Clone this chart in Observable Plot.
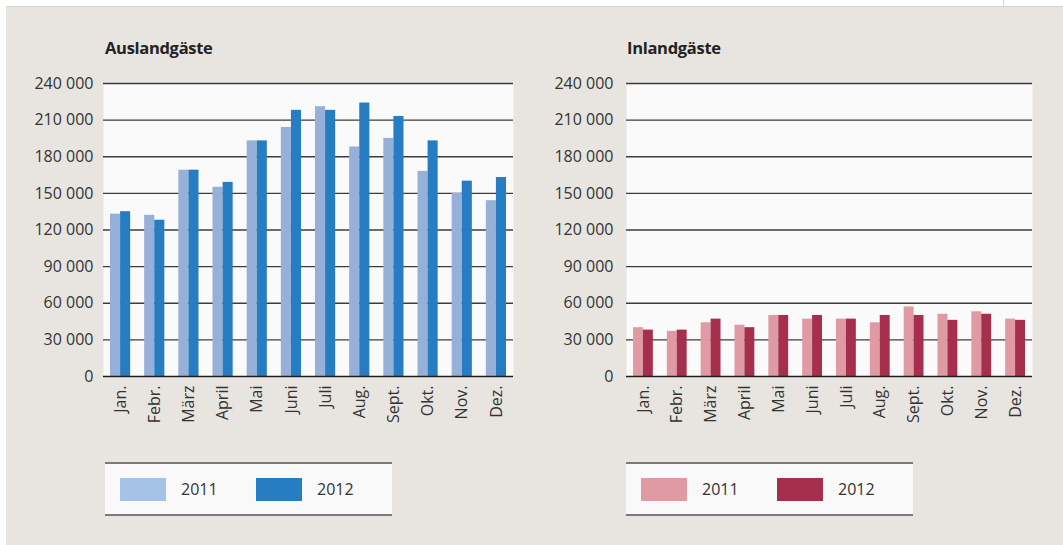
<!DOCTYPE html>
<html>
<head>
<meta charset="utf-8">
<script src="https://cdn.jsdelivr.net/npm/d3@7"></script>
<script src="https://cdn.jsdelivr.net/npm/@observablehq/plot@0.6"></script>
<style>
  html, body { margin: 0; padding: 0; background: #ffffff; width: 1063px; height: 545px; overflow: hidden; }
  body { position: relative; font-family: "Open Sans", sans-serif; color: #333; }
  #bg { position: absolute; left: 6px; top: 6px; width: 1057px; height: 539px; background: #e8e5e0; border-top: 1px solid #d2d2d2; box-sizing: border-box; }
  #vline { position: absolute; left: 1003px; top: 0; width: 1px; height: 6px; background: #d2d2d2; }
  .chart { position: absolute; top: 0; }
  .title { position: absolute; top: 36px; font-weight: 700; font-size: 16.5px; color: #222; letter-spacing: -0.3px; }
  .legend { position: absolute; top: 462px; height: 54px; width: 287px; background: #f9f9f9; border-top: 2px solid #7a7a7a; border-bottom: 2px solid #7a7a7a; box-sizing: border-box; }
  .sw { position: absolute; top: 14px; width: 46px; height: 23px; }
  .lt { position: absolute; top: 14px; font-size: 16px; line-height: 23px; color: #333; }
</style>
</head>
<body>
<div id="bg"></div>
<div id="vline"></div>
<div class="title" style="left:105px">Auslandgäste</div>
<div class="title" style="left:627px">Inlandgäste</div>
<div id="left" class="chart" style="left:0px"></div>
<div id="right" class="chart" style="left:520px"></div>
<div id="legL" class="legend" style="left:105px"></div>
<div id="legR" class="legend" style="left:626px"></div>
<script>
const months = ["Jan.", "Febr.", "März", "April", "Mai", "Juni", "Juli", "Aug.", "Sept.", "Okt.", "Nov.", "Dez."];
const years = ["2011", "2012"];
const ausland2011 = [133000, 132000, 169000, 155000, 193000, 204000, 221000, 188000, 195000, 168000, 150000, 144000];
const ausland2012 = [135000, 128000, 169000, 159000, 193000, 218000, 218000, 224000, 213000, 193000, 160000, 163000];
const inland2011 = [40000, 37000, 44000, 42000, 50000, 47000, 47000, 44000, 57000, 51000, 53000, 47000];
const inland2012 = [38000, 38000, 47000, 40000, 50000, 50000, 47000, 50000, 50000, 46000, 51000, 46000];
const yTicks = [0, 30000, 60000, 90000, 120000, 150000, 180000, 210000, 240000];
const auslandColors = ["#97b0d9", "#277dc2"];
const auslandLegendColors = ["#a4c3e6", "#277dc2"];
const inlandColors = ["#e09aa3", "#a62f4e"];

const fmt = d => d3.format(",")(d).replace(/,/g, "\u00a0");

function chart(v2011, v2012, colors, opts) {
  const W = 525, H = 440;
  const mL = opts.mL, mR = opts.mR, mT = 83, mB = 64;
  const bw = (W - mL - mR) / months.length;
  const data = months.map((m, i) => ({month: m, a: v2011[i], b: v2012[i]}));
  return Plot.plot({
    width: W, height: H,
    marginLeft: mL, marginRight: mR, marginTop: mT, marginBottom: mB,
    style: {background: "transparent", fontFamily: "Open Sans, sans-serif", fontSize: "16px", color: "#333", overflow: "visible"},
    x: {domain: months, padding: 0, round: false, label: null},
    y: {domain: [0, 240000], label: null},
    marks: [
      Plot.frame({fill: "#fafafa", stroke: "none"}),
      Plot.ruleY(yTicks.filter(d => d > 0), {stroke: "#3c3c3c", strokeWidth: 1.4}),
      Plot.barY(data, {x: "month", y: "a", fill: colors[0], insetLeft: 7, insetRight: bw / 2}),
      Plot.barY(data, {x: "month", y: "b", fill: colors[1], insetLeft: bw / 2, insetRight: 7}),
      Plot.ruleY([0], {stroke: "#1e1e1e", strokeWidth: 1.6}),
      Plot.axisY({ticks: yTicks, tickFormat: fmt, tickSize: 0, tickPadding: opts.yPad, fontSize: 16, fill: "#333", label: null}),
      Plot.axisX({tickRotate: -90, tickSize: 0, tickPadding: 9, fontSize: 16, fill: "#333", label: null})
    ]
  });
}

document.getElementById("left").appendChild(chart(ausland2011, ausland2012, auslandColors, {mL: 103, mR: 12, yPad: 10}));
document.getElementById("right").appendChild(chart(inland2011, inland2012, inlandColors, {mL: 106, mR: 13, yPad: 13}));

function legend(el, colors) {
  const sx = [15, 151], tx = [76, 212];
  years.forEach((y, i) => {
    const s = document.createElement("div");
    s.className = "sw"; s.style.left = sx[i] + "px"; s.style.background = colors[i];
    el.appendChild(s);
    const t = document.createElement("div");
    t.className = "lt"; t.style.left = tx[i] + "px"; t.textContent = y;
    el.appendChild(t);
  });
}
legend(document.getElementById("legL"), auslandLegendColors);
legend(document.getElementById("legR"), inlandColors);
</script>
</body>
</html>
